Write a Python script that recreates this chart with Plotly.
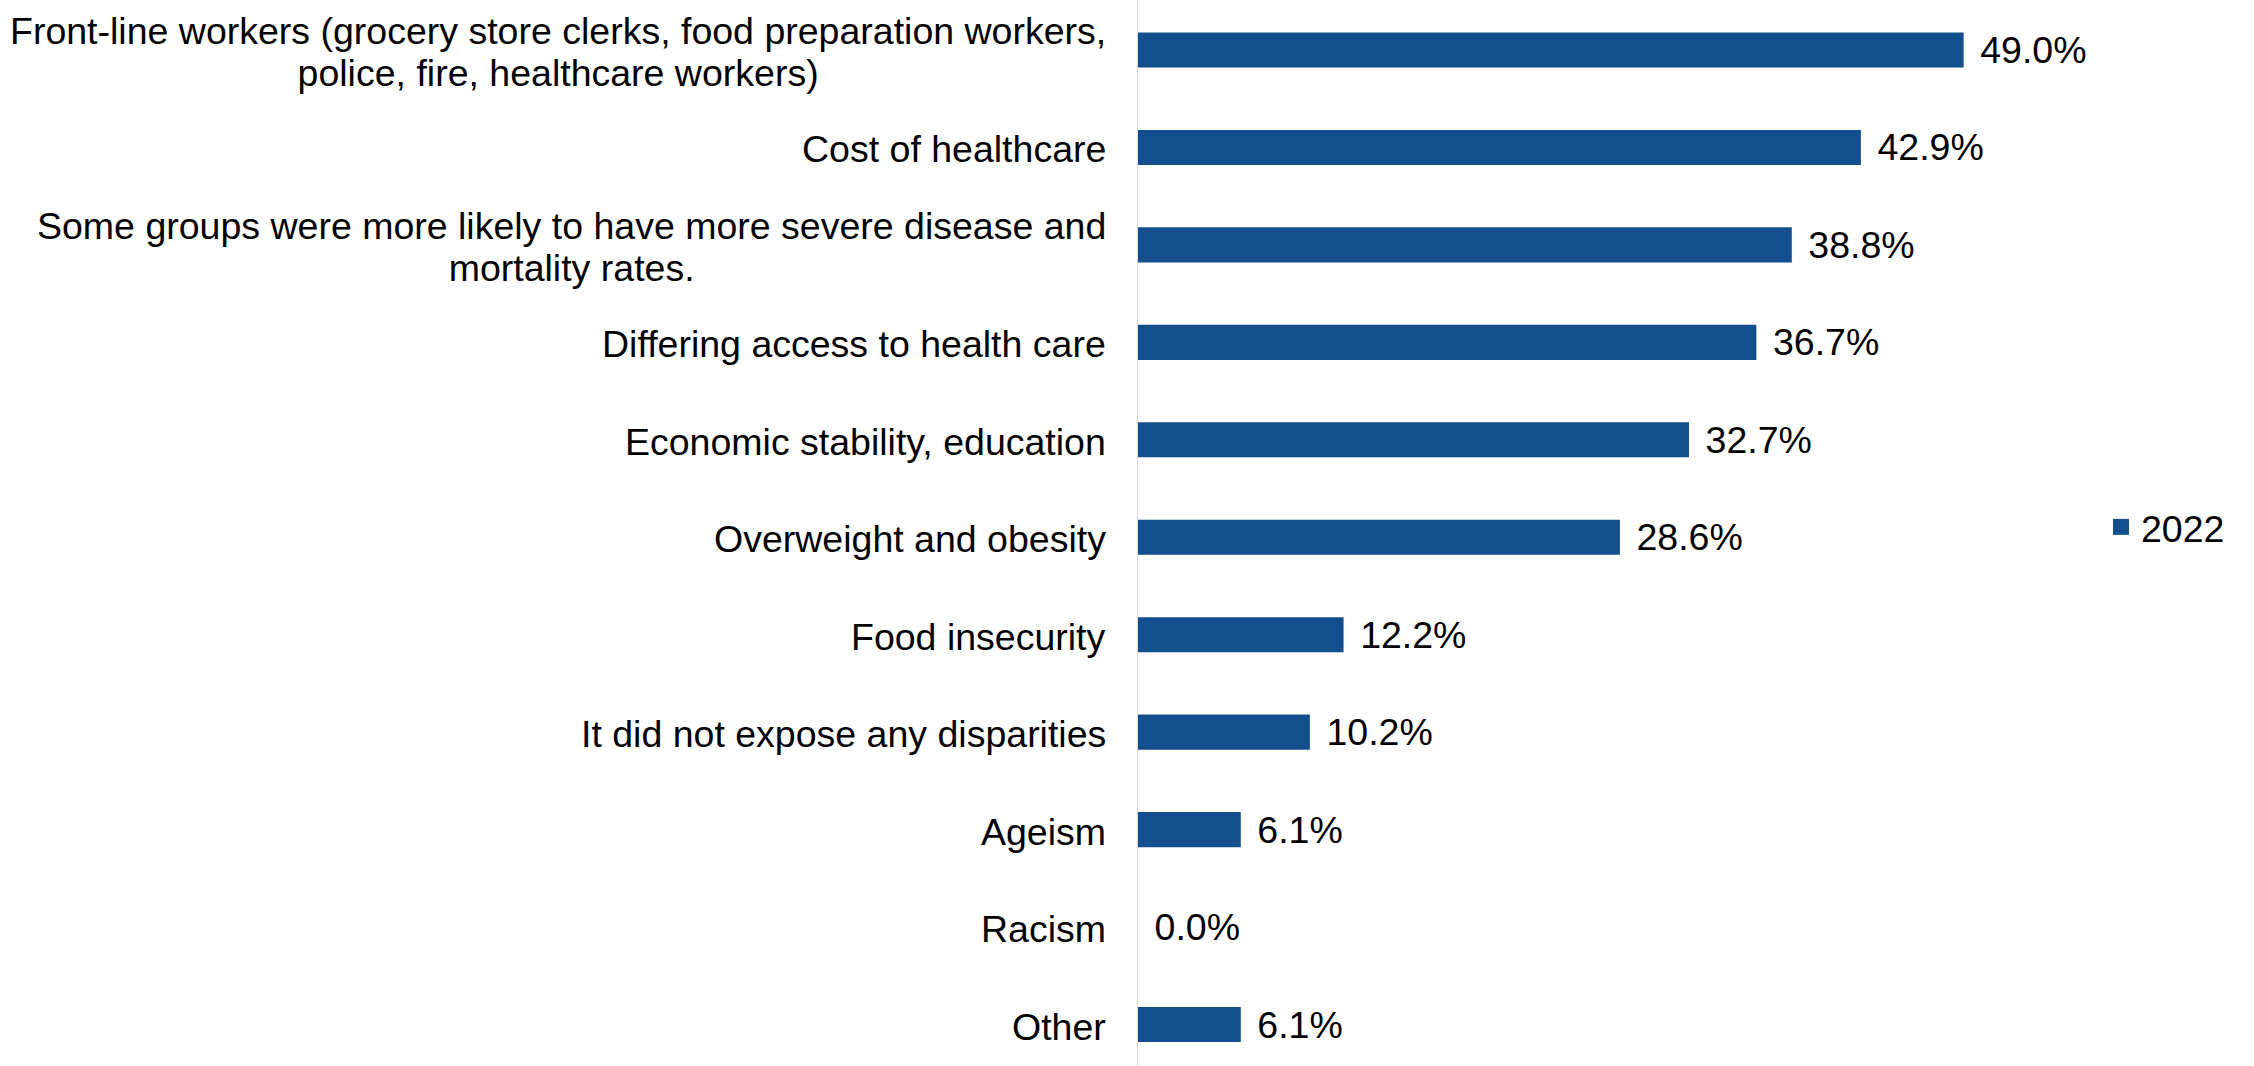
import plotly.graph_objects as go

categories = [
    "Front-line workers (grocery store clerks, food preparation workers,<br>police, fire, healthcare workers)",
    "Cost of healthcare",
    "Some groups were more likely to have more severe disease and<br>mortality rates.",
    "Differing access to health care",
    "Economic stability, education",
    "Overweight and obesity",
    "Food insecurity",
    "It did not expose any disparities",
    "Ageism",
    "Racism",
    "Other",
]
values_2022 = [49.0, 42.9, 38.8, 36.7, 32.7, 28.6, 12.2, 10.2, 6.1, 0.0, 6.1]
series_name = "2022"

BAR_COLOR = "#134E8F"
FONT = "Liberation Sans, Arial, sans-serif"
FS = 37.5
LINE_GAP = 42  # px between wrapped label lines (plotly uses 1.3em of base size)

W, H = 2254, 1066
L, R = 1138, 214

fig = go.Figure()
fig.add_trace(go.Bar(
    x=values_2022,
    y=categories,
    orientation="h",
    marker=dict(color=BAR_COLOR, line=dict(width=0)),
    width=0.36,
    texttemplate="\u00a0\u200a%{x:.1f}%",
    textposition="outside",
    constraintext="none",
    cliponaxis=False,
    textfont=dict(family=FONT, size=FS, color="#000000"),
    showlegend=False,
    hoverinfo="skip",
))
# legend entry
fig.add_trace(go.Scatter(
    x=[None], y=[None], mode="markers", name=series_name,
    marker=dict(symbol="square", size=16, color=BAR_COLOR),
    showlegend=True,
))

# category labels (center-aligned multi-line, like the original)
for c in categories:
    shown = "<br>".join(
        f"<span style='font-size:{FS}px'>{part}</span>" for part in c.split("<br>")
    )
    fig.add_annotation(
        x=0, y=c, xref="x", yref="y",
        text=shown, showarrow=False,
        xanchor="right", yanchor="middle", align="center",
        xshift=-30, yshift=-2,
        font=dict(family=FONT, size=LINE_GAP / 1.3, color="#000000"),
    )

px_per_unit = 16.85
plot_w = W - L - R
step = 97.45
first_center = 50
y_lo = -first_center / step
y_hi = y_lo + H / step
fig.update_layout(
    width=W, height=H,
    margin=dict(l=L, r=R, t=0, b=0, autoexpand=False),
    paper_bgcolor="white", plot_bgcolor="white",
    font=dict(family=FONT, size=FS, color="#000000"),
    bargap=0.64,
    xaxis=dict(range=[0, plot_w / px_per_unit], showgrid=False, zeroline=False,
               showline=False, showticklabels=False, ticks=""),
    yaxis=dict(type="category", categoryorder="array", categoryarray=categories,
               range=[y_hi, y_lo], showgrid=False, zeroline=False,
               showline=True, linecolor="#D9D9D9", linewidth=1,
               showticklabels=False, ticks=""),
    legend=dict(x=(2101 - L) / plot_w, xanchor="left", y=1 - 527 / H, yanchor="middle",
                font=dict(family=FONT, size=FS, color="#000000"),
                bgcolor="rgba(0,0,0,0)", borderwidth=0),
    showlegend=True,
)

fig.write_html(
    "out.html",
    config={"displayModeBar": False},
    post_script="document.body.style.margin='0';document.body.style.overflow='hidden';",
)
